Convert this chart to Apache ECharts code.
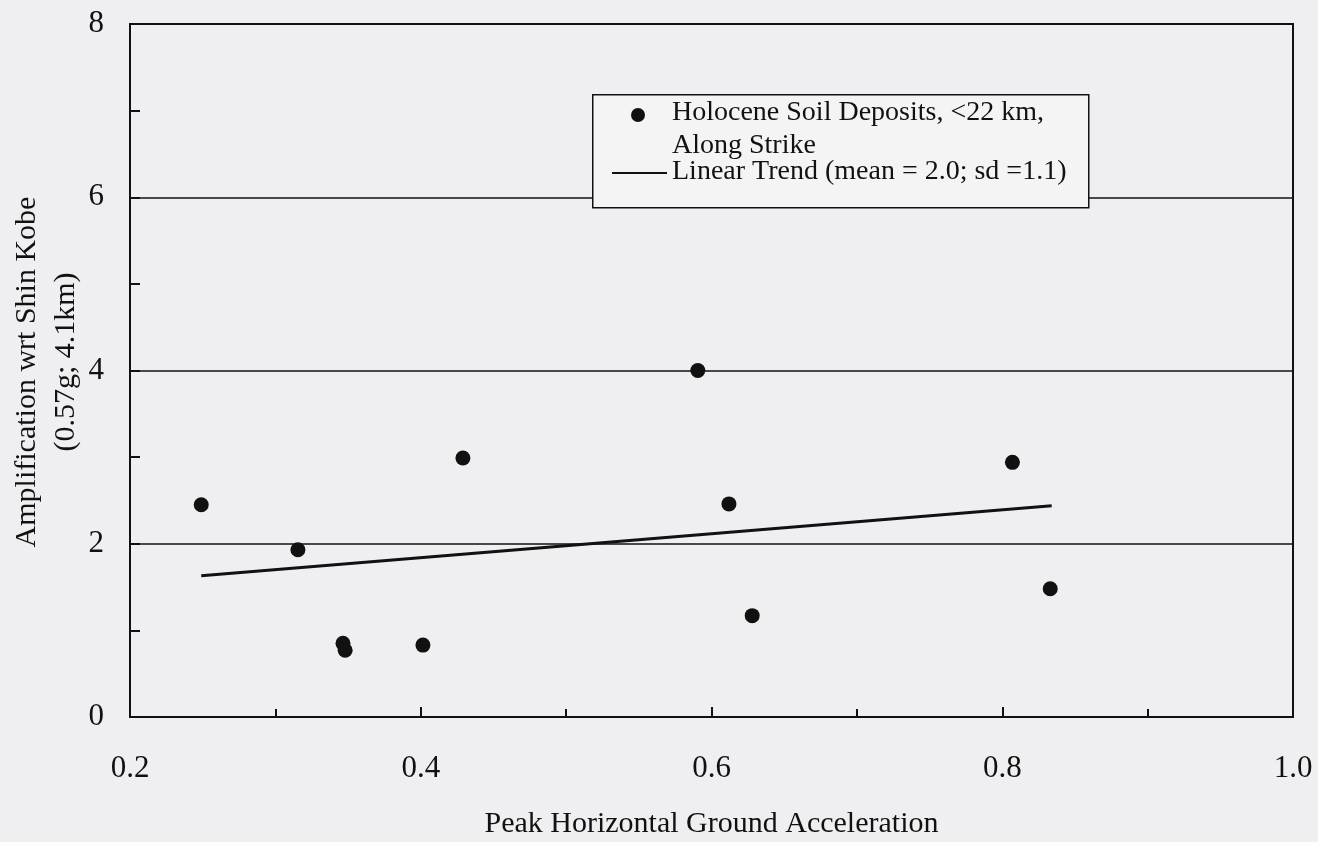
<!DOCTYPE html>
<html>
<head>
<meta charset="utf-8">
<script src="https://cdn.jsdelivr.net/npm/echarts@6/dist/echarts.min.js"></script>
<style>
html,body{margin:0;padding:0;background:#efeff1;}
#c{width:1318px;height:842px;}
</style>
</head>
<body>
<div id="c"></div>
<script>
// Data
const pga = [0.249, 0.3155, 0.3465, 0.348, 0.4015, 0.429, 0.5906, 0.612, 0.628, 0.807, 0.833];
const amplification = [2.45, 1.93, 0.85, 0.77, 0.83, 2.99, 4.0, 2.46, 1.17, 2.94, 1.48];
const trendX = [0.249, 0.834];
const trendY = [1.63, 2.44];
const xTickLabels = ['0.2', '0.4', '0.6', '0.8', '1.0'];
const yTickLabels = ['0', '2', '4', '6', '8'];
const seriesNames = ['Holocene Soil Deposits, <22 km,', 'Along Strike', 'Linear Trend (mean = 2.0; sd =1.1)'];
const xTitle = 'Peak Horizontal Ground Acceleration';
const yTitleLines = ['Amplification wrt Shin Kobe', '(0.57g; 4.1km)'];

const FONT = 'Liberation Serif';
const chart = echarts.init(document.getElementById('c'), null, {renderer: 'canvas'});

const scatterData = pga.map((x, i) => [x, amplification[i]]);
const trendData = trendX.map((x, i) => [x, trendY[i]]);

function fmt(list) {
  return function (v) {
    const r = Math.round(v * 10) / 10;
    for (const l of list) { if (parseFloat(l) === r) return l; }
    return '';
  };
}

chart.setOption({
  backgroundColor: '#efeff1',
  animation: false,
  grid: {left: 130, right: 25, top: 24, bottom: 125, show: true, borderColor: '#111', borderWidth: 2,
         backgroundColor: 'transparent', containLabel: false, outerBoundsMode: 'none'},
  xAxis: {
    type: 'value', min: 0.2, max: 1.0, interval: 0.2,
    name: xTitle, nameLocation: 'middle', nameGap: 92,
    nameTextStyle: {fontFamily: FONT, fontSize: 30, color: '#111'},
    axisLine: {show: true, lineStyle: {color: '#111', width: 2}},
    axisTick: {show: true, inside: true, length: 10, lineStyle: {color: '#111', width: 2}},
    minorTick: {show: true, splitNumber: 2, length: 8, lineStyle: {color: '#111', width: 2}},
    axisLabel: {margin: 36, fontFamily: FONT, fontSize: 31, color: '#111', formatter: fmt(xTickLabels)},
    splitLine: {show: false}
  },
  yAxis: {
    type: 'value', min: 0, max: 8, interval: 2,
    axisLine: {show: true, lineStyle: {color: '#111', width: 2}},
    axisTick: {show: true, inside: true, length: 10, lineStyle: {color: '#111', width: 2}},
    minorTick: {show: true, splitNumber: 2, length: 10, lineStyle: {color: '#111', width: 2}},
    axisLabel: {margin: 26, fontFamily: FONT, fontSize: 31, color: '#111', formatter: fmt(yTickLabels)},
    splitLine: {show: true, lineStyle: {color: '#111', width: 1.5}}
  },
  series: [
    {
      type: 'scatter', name: seriesNames[0], data: scatterData,
      symbol: 'circle', symbolSize: 15, itemStyle: {color: '#111', opacity: 1}, z: 5
    },
    {
      type: 'line', name: seriesNames[2], data: trendData, showSymbol: false, symbol: 'none',
      lineStyle: {color: '#111', width: 3}, z: 4
    }
  ],
  graphic: [
    {type: 'text', x: 27, y: 372, rotation: Math.PI / 2, z: 50,
     style: {text: yTitleLines[0], font: '30px "Liberation Serif"', fill: '#111', align: 'center', verticalAlign: 'middle'}},
    {type: 'text', x: 66, y: 362, rotation: Math.PI / 2, z: 50,
     style: {text: yTitleLines[1], font: '30px "Liberation Serif"', fill: '#111', align: 'center', verticalAlign: 'middle'}},
    {type: 'rect', left: 592, top: 94, z: 100, shape: {width: 496, height: 113},
     style: {fill: '#f4f4f5', stroke: '#111', lineWidth: 1.5}},
    {type: 'circle', z: 101, shape: {cx: 638, cy: 115, r: 7}, style: {fill: '#111'}},
    {type: 'text', left: 672, top: 99, z: 101, style: {text: seriesNames[0], font: '28px "Liberation Serif"', fill: '#111'}},
    {type: 'text', left: 672, top: 132, z: 101, style: {text: seriesNames[1], font: '28px "Liberation Serif"', fill: '#111'}},
    {type: 'line', z: 101, shape: {x1: 612, y1: 173, x2: 667, y2: 173}, style: {stroke: '#111', lineWidth: 2}},
    {type: 'text', left: 672, top: 158, z: 101, style: {text: seriesNames[2], font: '28px "Liberation Serif"', fill: '#111'}}
  ]
});
</script>
</body>
</html>
